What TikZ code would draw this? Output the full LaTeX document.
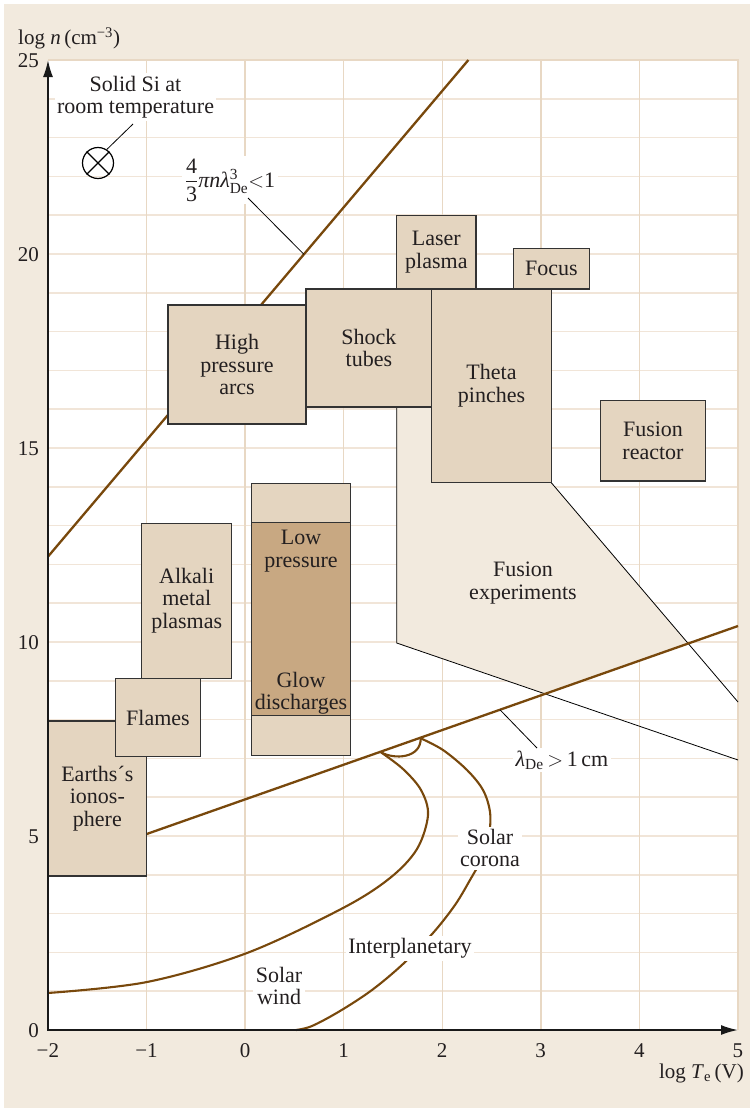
\documentclass[tikz,border=0pt]{standalone}
\usepackage{fontspec}
\usepackage{amsmath}
\setmainfont{Liberation Serif}
\usetikzlibrary{arrows.meta}
\definecolor{bgbeige}{RGB}{242,234,222}
\definecolor{gridv}{RGB}{232,216,196}
\definecolor{gridh}{RGB}{241,229,216}
\definecolor{boxfill}{RGB}{228,213,192}
\definecolor{darkfill}{RGB}{200,168,130}
\definecolor{brownline}{RGB}{120,72,12}
\definecolor{txt}{RGB}{35,31,32}
\begin{document}
\begin{tikzpicture}[x=1pt,y=-1pt,
  region/.style={draw=black!80, line width=1.1pt, fill=boxfill, inner sep=0pt, outer sep=0pt,
    align=center, text=txt, font=\fontsize{22}{22.5}\selectfont},
  boxlabel/.style={align=center, text=txt, font=\fontsize{22}{22.5}\selectfont, inner sep=0pt},
  tag/.style={align=center, text=txt, font=\fontsize{22}{22.5}\selectfont, fill=white, inner sep=2.5pt},
  brownrule/.style={draw=brownline, line width=2.3pt},
  thinrule/.style={draw=black, line width=0.8pt},
  ticklab/.style={text=txt, font=\fontsize{21}{21}\selectfont, inner sep=0pt},
  axis/.style={draw=black!90, line width=1.8pt}]
\useasboundingbox (0,0) rectangle (750,1108);
% background
\fill[white] (0,0) rectangle (750,1108);
\fill[bgbeige] (4,4) rectangle (750,1108);
\fill[white] (48,60) rectangle (738,1030);
% grid
\foreach \k in {1,...,24}
  \draw[gridh, line width=1.5pt] (48,{1030-38.8*\k}) -- (738,{1030-38.8*\k});
\foreach \k in {1,...,6}
  \draw[gridv, line width=1.5pt] ({48+98.571*\k},60) -- ({48+98.571*\k},1030);
\draw[gridv, line width=1.5pt] (48,60) -- (738,60) -- (738,1030);

% fusion experiments region
\coordinate (fa) at (396.7,407);
\coordinate (fb) at (396.7,643);
\coordinate (fc) at (545.1,693.8);
\coordinate (fd) at (688.2,643.5);
\coordinate (fe) at (551.3,482.7);
\coordinate (ff) at (431.7,482.7);
\coordinate (fg) at (431.7,407);
\coordinate (lineAend) at (738,760);
\coordinate (lineBend) at (738,702);
\fill[bgbeige] (fa) -- (fb) -- (fc) -- (fd) -- (fe) -- (ff) -- (fg) -- cycle;
\draw[thinrule] (fa) -- (fb) -- (lineAend);
\draw[thinrule] (fe) -- (lineBend);

% brown rules
\coordinate (idealA) at (48,556.6);
\coordinate (idealB) at (468.4,60);
\draw[brownrule] (idealA) -- (idealB);
\coordinate (debyeA) at (146.7,834);
\coordinate (debyeB) at (738,626);
\draw[brownrule] (debyeA) -- (debyeB);

% solar curves
\coordinate (p1) at (381,752.3);
\coordinate (p2) at (420.7,738.3);
\draw[brownrule, line width=2.1pt] plot[smooth, tension=0.55] coordinates
  {(48,993) (147,982) (247,953) (343,908) (390,878) (417,849) (428,815) (421,790) (403,769) (381,752.3)};
\draw[brownrule, line width=2.1pt] plot[smooth, tension=0.55] coordinates
  {(420.7,738.3) (443,750) (467,770) (483,790) (490,812) (489,835) (482,858) (470,880) (455,905) (433,933) (403,964) (372,990) (340,1011) (312,1026) (296,1030)};
\draw[brownrule, line width=2.1pt] (p1) .. controls (395,760) and (421,758) .. (p2);

% boxes
\node[region, minimum width=98.7pt, minimum height=155pt] (iono) at (97.35,798.5) {Earths´s\\ionos-\\phere};
\node[region, minimum width=84.6pt, minimum height=78.4pt] (flames) at (158,717.5) {Flames};
\node[region, minimum width=90pt, minimum height=155.3pt] (alkali) at (186.7,600.7) {Alkali\\metal\\plasmas};
\node[region, minimum width=98.6pt, minimum height=272.4pt] (lowp) at (301,619.5) {};
\node[region, fill=darkfill, minimum width=98.6pt, minimum height=193pt] (glow) at (301,619.2) {};
\node[boxlabel] (lowtext) at (301,551) {Low\\pressure};
\node[boxlabel] (glowtext) at (301,693) {Glow\\discharges};
\node[region, minimum width=138pt, minimum height=119pt] (hpa) at (237,364.5) {High\\pressure\\arcs};
\node[region, minimum width=125.7pt, minimum height=118pt] (shock) at (368.85,348) {Shock\\tubes};
\node[region, minimum width=79.3pt, minimum height=73.7pt] (laser) at (436.35,252.15) {Laser\\plasma};
\node[region, minimum width=76pt, minimum height=40.3pt] (focus) at (551.3,268.85) {Focus};
\node[region, minimum width=119.6pt, minimum height=193.7pt] (theta) at (491.5,385.85) {Theta\\pinches};
\node[region, minimum width=105.4pt, minimum height=80.3pt] (reactor) at (653,440.85) {Fusion\\reactor};
\node[boxlabel] (fusexp) at (523,583) {Fusion\\experiments};

% axes
\draw[axis, -{Latex[length=17pt,width=10pt]}] (48,1030.9) -- (48,60);
\draw[axis, -{Latex[length=17pt,width=10pt]}] (47.1,1030) -- (738,1030);
\node[ticklab, anchor=base west] (ylab) at (18,45) {log \textit{n}\,(cm$^{\text{−3}}$)};
\node[ticklab, anchor=base east] (xlab) at (744,1078) {log \textit{T}$_{\text{e}}$\,(V)};
\foreach \v in {0,5,10,15,20,25}
  \node[ticklab, anchor=east] (yt\v) at (39,{1031-38.8*\v}) {\v};
\foreach \v/\s in {-2/−2,-1/−1,0/0,1/1,2/2,3/3,4/4,5/5}
  \node[ticklab] (xt\v) at ({245+98.571*\v},1051) {\s};

% labels with leaders
\node[draw=black, line width=1.2pt, circle, minimum size=31pt, inner sep=0pt] (si) at (98,163) {};
\draw[line width=1.2pt] (si.45) -- (si.225) (si.135) -- (si.315);
\node[tag] (sitext) at (135.5,97) {Solid Si at\\room temperature};
\coordinate (sileader) at (133,124);
\draw[thinrule] (si.57) -- (sileader);

\node[tag] (ideal) at (230,180) {$\dfrac{\text{4}}{\text{3}}$\textit{πnλ}$^{\text{3}}_{\text{De}}$$<$1};
\coordinate (idealstart) at (248,198);
\coordinate (idealhit) at (304,254.4);
\draw[thinrule] (idealstart) -- (idealhit);

\node[tag] (debye) at (562,760) {\textit{λ}$_{\text{De}}$\,$>$\,1\,cm};
\coordinate (debyestart) at (537,748);
\coordinate (debyehit) at (500,709.8);
\draw[thinrule] (debyestart) -- (debyehit);

\node[tag] (corona) at (490,848) {Solar\\corona};
\node[tag] (interpl) at (410,948) {Interplanetary};
\node[tag] (wind) at (279,986) {Solar\\wind};
\end{tikzpicture}
\end{document}
